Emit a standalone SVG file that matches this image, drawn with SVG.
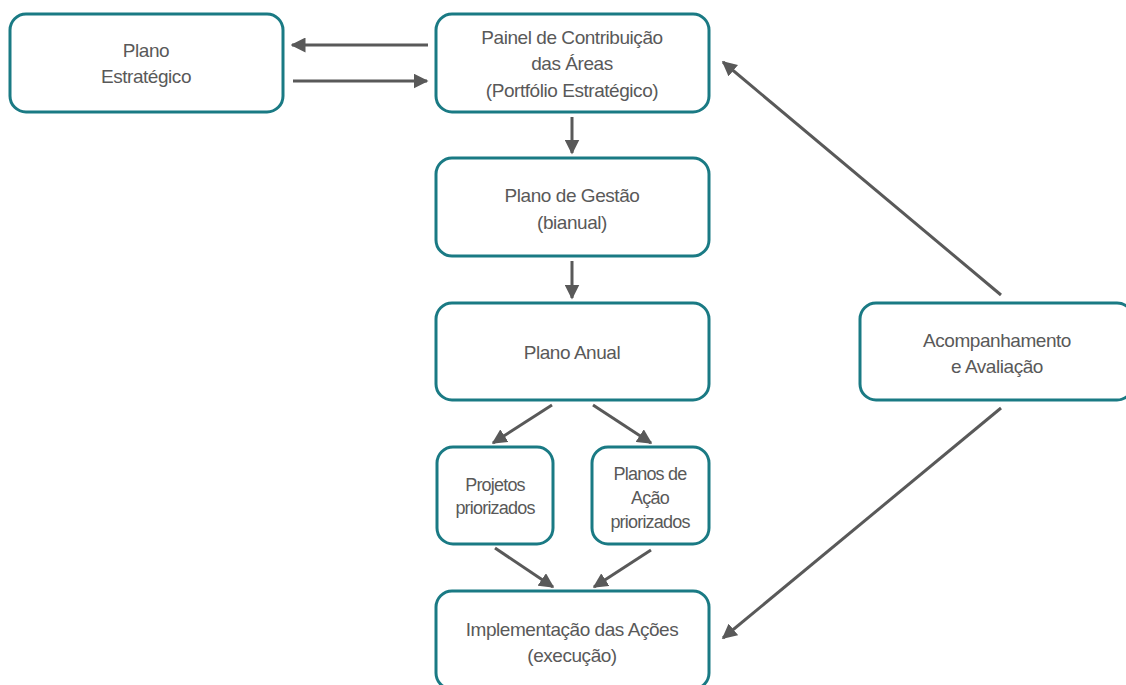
<svg xmlns="http://www.w3.org/2000/svg" width="1126" height="685" viewBox="0 0 1126 685">
<style>
.box{fill:#fff;stroke:#1a7a84;stroke-width:3}
.t{font-family:"Liberation Sans",Arial,sans-serif;font-size:19px;letter-spacing:-0.45px;fill:#595959;text-anchor:middle;dominant-baseline:central}
.s{font-size:18px;letter-spacing:-0.8px}
.c{stroke:#595959;stroke-width:3;fill:none;marker-end:url(#ah)}
</style>
<defs>
<marker id="ah" viewBox="0 0 10 10" refX="9" refY="5" markerWidth="5" markerHeight="5" orient="auto" markerUnits="strokeWidth">
<path d="M0,0 L10,5 L0,10 z" fill="#595959"/>
</marker>
</defs>
<rect width="1126" height="685" fill="#fff"/>
<g id="plano-estrategico"><rect class="box" x="10" y="14" width="273" height="98" rx="16"/><text class="t" x="146" y="50">Plano</text><text class="t" x="146" y="76">Estratégico</text></g>
<g id="painel"><rect class="box" x="436" y="14" width="273" height="98" rx="16"/><text class="t" x="572" y="37">Painel de Contribuição</text><text class="t" x="572" y="63">das Áreas</text><text class="t" x="572" y="90">(Portfólio Estratégico)</text></g>
<g id="plano-gestao"><rect class="box" x="436" y="158" width="273" height="98" rx="16"/><text class="t" x="572" y="195">Plano de Gestão</text><text class="t" x="572" y="222">(bianual)</text></g>
<g id="plano-anual"><rect class="box" x="436" y="303" width="273" height="97" rx="16"/><text class="t" x="572" y="352">Plano Anual</text></g>
<g id="projetos"><rect class="box" x="437" y="447" width="116" height="97" rx="16"/><text class="t s" x="495" y="485">Projetos</text><text class="t s" x="495" y="508">priorizados</text></g>
<g id="planos-acao"><rect class="box" x="592" y="447" width="117" height="97" rx="16"/><text class="t s" x="650" y="474">Planos de</text><text class="t s" x="650" y="498">Ação</text><text class="t s" x="650" y="522">priorizados</text></g>
<g id="implementacao"><rect class="box" x="436" y="591" width="273" height="98" rx="16"/><text class="t" x="572" y="629">Implementação das Ações</text><text class="t" x="572" y="655">(execução)</text></g>
<g id="acompanhamento"><rect class="box" x="860" y="303" width="273" height="97" rx="16"/><text class="t" x="997" y="340">Acompanhamento</text><text class="t" x="997" y="366">e Avaliação</text></g>
<g id="connectors">
<line class="c" x1="428" y1="45" x2="292" y2="45"/>
<line class="c" x1="293" y1="81" x2="427" y2="81"/>
<line class="c" x1="572" y1="117" x2="572" y2="153"/>
<line class="c" x1="572" y1="261" x2="572" y2="298"/>
<line class="c" x1="552" y1="405" x2="493" y2="443"/>
<line class="c" x1="593" y1="405" x2="651" y2="443"/>
<line class="c" x1="495" y1="548" x2="553" y2="587"/>
<line class="c" x1="651" y1="550" x2="594" y2="587"/>
<line class="c" x1="1001" y1="295" x2="723" y2="62"/>
<line class="c" x1="1001" y1="408" x2="723" y2="638"/>
</g>
</svg>
